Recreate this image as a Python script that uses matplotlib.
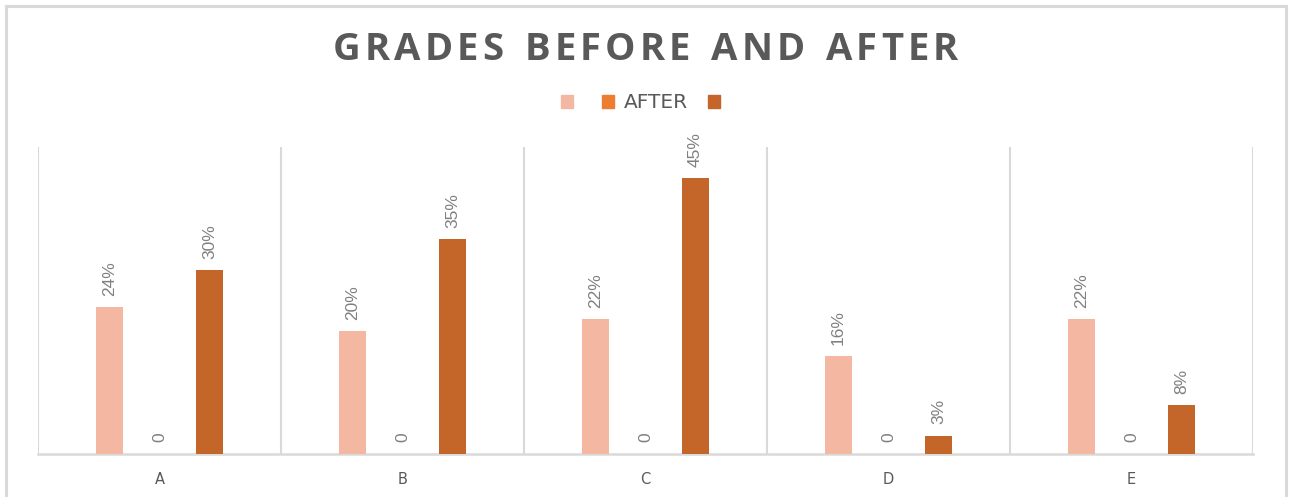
import numpy as np
import matplotlib
matplotlib.use("Agg")
import matplotlib.pyplot as plt
from matplotlib.patches import Rectangle
from matplotlib.lines import Line2D

# Chart data
categories = ["A", "B", "C", "D", "E"]
series_labels = ["", "AFTER", ""]
first_values = [0.24, 0.20, 0.22, 0.16, 0.22]
middle_values = [0, 0, 0, 0, 0]
last_values = [0.30, 0.35, 0.45, 0.03, 0.08]
title_text = "GRADES BEFORE AND AFTER"

colors = ["#F4B8A2", "#ED7D31", "#C4652A"]
grid_color = "#D9D9D9"
text_dark = "#595959"
label_grey = "#808080"

W, H = 1294, 497
fig = plt.figure(figsize=(W / 100, H / 100), dpi=100)
fig.patch.set_facecolor("white")

# outer chart frame (bottom edge runs off the image)
for xs, ys in [((6, 6), (-10, H - 6)), ((6, 1286), (H - 6, H - 6)), ((1286, 1286), (H - 6, -10))]:
    fig.add_artist(Line2D([x / W for x in xs], [y / H for y in ys], color=grid_color, lw=2.2,
                          transform=fig.transFigure))

ax = fig.add_axes([38 / W, 1 - 454 / H, (1253 - 38) / W, (454 - 147) / H])
x = np.arange(len(categories))
step = 0.2058
width = 0.111
series = [first_values, middle_values, last_values]
for i, (vals, col, lab) in enumerate(zip(series, colors, series_labels)):
    bars = ax.bar(x + (i - 1) * step, vals, width=width, color=col, label=lab, zorder=3)
    for rect, v in zip(bars, vals):
        txt = "0" if v == 0 else f"{v:.0%}"
        ax.annotate(txt, (rect.get_x() + rect.get_width() / 2, v),
                    xytext=(0, 8 if v else 9), textcoords="offset points",
                    rotation=90, ha="center", va="bottom", color=label_grey,
                    fontsize=12.5, family=["Liberation Sans", "DejaVu Sans"])

ax.set_xlim(-0.5, len(categories) - 0.5)
ax.set_ylim(0, 0.5)
ax.set_yticks([])
ax.set_xticks(x)
ax.set_xticklabels(categories, color=text_dark, fontsize=10.5,
                   family=["DejaVu Sans"])
ax.tick_params(axis="x", which="major", length=0, pad=13)
ax.set_xticks(np.arange(-0.5, len(categories)), minor=True)
ax.tick_params(axis="x", which="minor", length=0)
ax.grid(axis="x", which="minor", color=grid_color, lw=1.5, zorder=0)
for side in ["top", "right", "left"]:
    ax.spines[side].set_visible(False)
ax.spines["bottom"].set_color(grid_color)
ax.spines["bottom"].set_linewidth(1.8)

# legend
handles = [Rectangle((0, 0), 1, 1, color=c) for c in colors]
fig.legend(handles, series_labels, loc="center", bbox_to_anchor=(645 / W, 1 - 103 / H),
           ncol=3, frameon=False, fontsize=14.5, labelcolor=text_dark,
           handlelength=0.6, handleheight=0.6, handletextpad=0.45, columnspacing=1.0,
           borderpad=0, borderaxespad=0)

# letter-spaced title
fig.canvas.draw()
renderer = fig.canvas.get_renderer()
tprops = dict(fontsize=27.5, fontweight="bold", color=text_dark, family=["Open Sans", "DejaVu Sans"])
widths = []
for ch in title_text:
    t = fig.text(0, 0, ch if ch != " " else "n", **tprops)
    w = t.get_window_extent(renderer).width
    if ch == " ":
        w *= 0.5
    widths.append(w)
    t.remove()
target = 958 - 333
extra = (target - sum(widths)) / (len(title_text) - 1)
xpos = 645.5 - target / 2
for ch, w in zip(title_text, widths):
    if ch != " ":
        fig.text(xpos / W, 1 - 60 / H, ch, ha="left", va="baseline", **tprops)
    xpos += w + extra

fig.savefig("out.png", dpi=100, facecolor="white")
